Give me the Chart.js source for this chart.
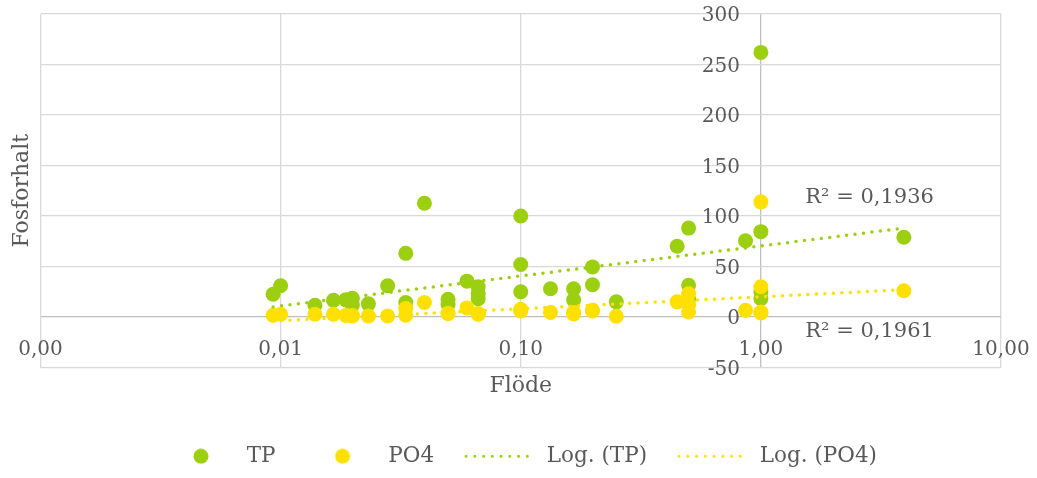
<!DOCTYPE html>
<html>
<head>
<meta charset="utf-8">
<script src="https://cdn.jsdelivr.net/npm/chart.js@4.4.1/dist/chart.umd.min.js"></script>
<style>
  html, body { margin: 0; padding: 0; background: #fff; }
</style>
</head>
<body>
<canvas id="chart" width="1037" height="478"></canvas>
<script>
const flow = [0.0093, 0.0100, 0.0139, 0.0166, 0.0187, 0.0199, 0.0199, 0.0232, 0.0279, 0.0332,
              0.0332, 0.0397, 0.0498, 0.0498, 0.0597, 0.0665, 0.0665, 0.0665, 0.100, 0.100,
              0.100, 0.133, 0.166, 0.166, 0.199, 0.199, 0.250, 0.448, 0.500, 0.500,
              0.500, 0.863, 1.00, 1.00, 1.00, 1.00, 3.94];
const tp = [22.5, 31, 11.6, 16.6, 17, 18.5, 12, 13, 31, 63,
            14.3, 112.6, 17.6, 12.3, 35.5, 30, 23, 18, 100, 52,
            25, 28, 28, 17, 49.6, 32, 15, 70, 88, 31.5,
            18, 75.5, 262, 84.5, 25, 18, 79];
const po4 = [1.7, 2.7, 2.7, 2.7, 1.5, 1.5, 1, 1, 1, 1.7,
             8.3, 14.3, 3.4, 3.4, 9, 3.4, 3, 2.7, 7.6, 7,
             6, 4.4, 4.4, 3, 6.6, 6, 0.7, 15, 23, 5,
             12, 6.6, 114, 30, 5, 4, 26];

// logarithmic trendlines (straight on a log x axis): end points
const trendFlow = [0.0093, 3.94];
const tpTrend = [10, 88];
const po4Trend = [-4, 27];

const xTicks = [0.001, 0.01, 0.1, 1, 10];
const xTickLabels = ['0,00', '0,01', '0,10', '1,00', '10,00'];
const yTicks = [-50, 0, 50, 100, 150, 200, 250, 300];
const r2Labels = ['R² = 0,1936', 'R² = 0,1961'];
const seriesNames = ['TP', 'PO4', 'Log. (TP)', 'Log. (PO4)'];

const GREEN = '#9ccf10';
const YELLOW = '#ffe000';
const TEXT = '#595959';
const FONT = "'DejaVu Serif', Georgia, serif";

Chart.defaults.font.family = FONT;
Chart.defaults.color = TEXT;

function toPoints(xs, ys) {
    return xs.map((x, i) => ({ x: x, y: ys[i] }));
}

function dotImage(color) {
    const c = document.createElement('canvas');
    c.width = 16;
    c.height = 16;
    const g = c.getContext('2d');
    g.fillStyle = color;
    g.beginPath();
    g.arc(8, 8, 7.5, 0, Math.PI * 2);
    g.fill();
    return c;
}

// tick labels sit beside the crossing axes (x = 1, y = 0), plus R² texts
const axisLabels = {
    id: 'axisLabels',
    afterDraw(chart) {
        const { ctx, scales: { x, y } } = chart;
        ctx.save();
        ctx.fillStyle = TEXT;
        ctx.font = '20px ' + FONT;
        ctx.textBaseline = 'alphabetic';

        ctx.textAlign = 'right';
        const yAxisX = x.getPixelForValue(1);
        yTicks.forEach(v => {
            ctx.fillText(String(v), yAxisX - 21, y.getPixelForValue(v) + 7);
        });

        ctx.textAlign = 'center';
        const xAxisY = y.getPixelForValue(0);
        xTicks.forEach((v, i) => {
            ctx.fillText(xTickLabels[i], x.getPixelForValue(v), xAxisY + 38);
        });

        ctx.textAlign = 'left';
        ctx.font = '21px ' + FONT;
        ctx.fillText(r2Labels[0], x.getPixelForValue(1.53), y.getPixelForValue(113));
        ctx.fillText(r2Labels[1], x.getPixelForValue(1.53), y.getPixelForValue(-20));
        ctx.restore();
    }
};

// the legend in the original sits a little right of centre
const legendShift = {
    id: 'legendShift',
    afterLayout(chart) {
        if (chart.legend) {
            chart.legend.left += 21;
            chart.legend.right += 21;
        }
    }
};

const gridColor = (ctx, axisValue) =>
    ctx.tick && ctx.tick.value === axisValue ? '#bfbfbf' : '#d9d9d9';

new Chart(document.getElementById('chart'), {
    type: 'scatter',
    data: {
        datasets: [
            {
                label: seriesNames[0],
                data: toPoints(flow, tp),
                backgroundColor: GREEN,
                borderWidth: 0,
                pointRadius: 7.5,
                order: 3
            },
            {
                label: seriesNames[1],
                data: toPoints(flow, po4),
                backgroundColor: YELLOW,
                borderWidth: 0,
                pointRadius: 7.5,
                order: 2
            },
            {
                label: seriesNames[2],
                data: toPoints(trendFlow, tpTrend),
                showLine: true,
                borderColor: GREEN,
                borderWidth: 3.5,
                borderDash: [0, 8.5],
                borderCapStyle: 'round',
                pointRadius: 0,
                order: 1
            },
            {
                label: seriesNames[3],
                data: toPoints(trendFlow, po4Trend),
                showLine: true,
                borderColor: YELLOW,
                borderWidth: 3.5,
                borderDash: [0, 8.5],
                borderCapStyle: 'round',
                pointRadius: 0,
                order: 0
            }
        ]
    },
    options: {
        responsive: false,
        animation: false,
        layout: { padding: { top: 14, right: 36, bottom: 1, left: 0 } },
        scales: {
            x: {
                type: 'logarithmic',
                min: 0.001,
                max: 10,
                afterBuildTicks: scale => {
                    scale.ticks = xTicks.map(v => ({ value: v }));
                },
                ticks: { display: false },
                border: { display: false },
                grid: {
                    drawTicks: false,
                    lineWidth: 1.3,
                    color: ctx => gridColor(ctx, 1)
                },
                title: {
                    display: true,
                    text: 'Flöde',
                    color: TEXT,
                    font: { size: 22 },
                    padding: { top: 5.8, bottom: 13.8 }
                }
            },
            y: {
                type: 'linear',
                min: -50,
                max: 300,
                ticks: { display: false, stepSize: 50 },
                border: { display: false },
                grid: {
                    drawTicks: false,
                    lineWidth: 1.3,
                    color: ctx => gridColor(ctx, 0)
                },
                title: {
                    display: true,
                    text: 'Fosforhalt',
                    color: TEXT,
                    font: { size: 22 },
                    padding: { top: 8.8, bottom: 5.3 }
                }
            }
        },
        plugins: {
            tooltip: { enabled: false },
            legend: {
                position: 'bottom',
                labels: {
                    color: TEXT,
                    font: { size: 21.5 },
                    usePointStyle: true,
                    pointStyleWidth: 70,
                    padding: 32,
                    generateLabels: chart => chart.data.datasets.map((ds, i) => {
                        const isLine = !!ds.showLine;
                        return {
                            text: ds.label,
                            fontColor: TEXT,
                            fillStyle: isLine ? 'transparent' : ds.backgroundColor,
                            strokeStyle: isLine ? ds.borderColor : 'transparent',
                            lineWidth: isLine ? 3 : 0,
                            lineDash: isLine ? [0, 8.75] : [],
                            lineCap: 'round',
                            pointStyle: isLine ? 'line' : dotImage(ds.backgroundColor),
                            hidden: false,
                            datasetIndex: i
                        };
                    })
                }
            }
        }
    },
    plugins: [axisLabels, legendShift]
});
</script>
</body>
</html>
